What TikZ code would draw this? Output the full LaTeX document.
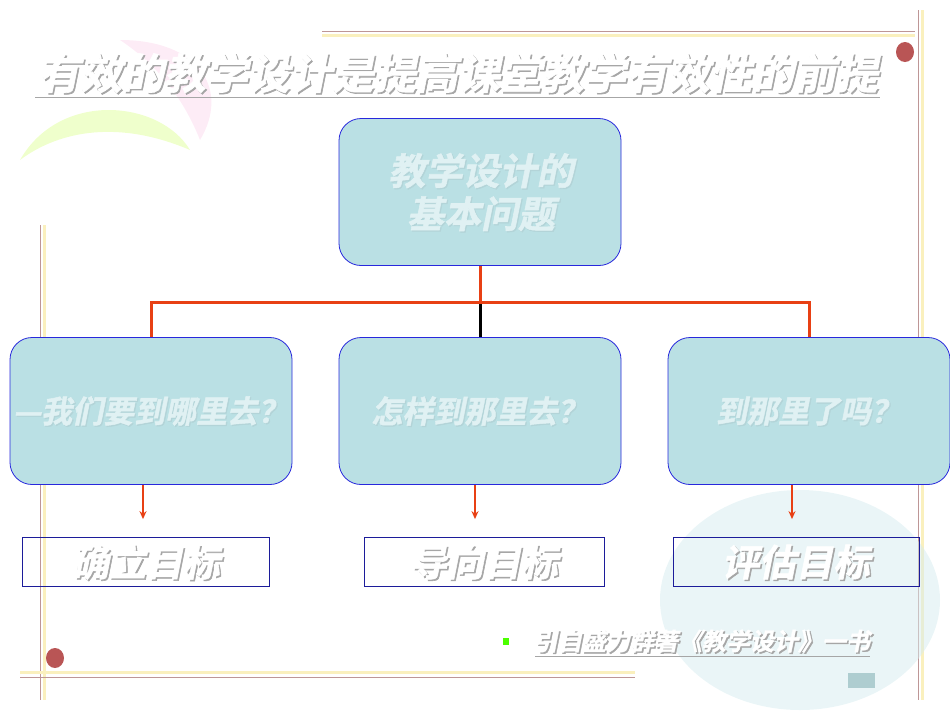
\documentclass[tikz,border=0pt]{standalone}
\usepackage{fontspec}
\newfontfamily\cjkb[FakeSlant=0.2,FakeBold=1.5]{Noto Sans CJK SC Bold}
\definecolor{boxfill}{RGB}{186,224,228}
\definecolor{boxline}{RGB}{40,40,220}
\definecolor{conn}{RGB}{232,64,20}
\definecolor{deco}{RGB}{190,150,150}
\definecolor{decoy}{RGB}{250,240,190}
\definecolor{dot}{RGB}{185,85,85}
\tikzset{
 bigbox/.style={draw=boxline,fill=boxfill,rounded corners=22pt,minimum width=282pt,minimum height=147pt,line width=0.8pt},
 goalbox/.style={draw=boxline!70!black,line width=0.8pt,minimum height=49pt},
 conline/.style={draw=conn,line width=3pt},
 arr/.style={draw=conn,line width=2.2pt,-{Stealth[length=8pt,width=7pt]}},
 shd/.style={text=gray!70},
 wt/.style={text=white},
 faint/.style={text=white!55!boxfill},
 faintshd/.style={text=boxfill!88!gray}
}
\newcommand{\shtext}[4]{% pos, size, text, name
 \node[shd,font=\cjkb\fontsize{#2}{#2}\selectfont] at ($(#1)+(1.5,1.5)$) {#3};
 \node[wt,font=\cjkb\fontsize{#2}{#2}\selectfont] (#4) at (#1) {#3};}
\newcommand{\fainttext}[4]{%
 \node[faintshd,font=\cjkb\fontsize{#2}{#2}\selectfont,align=center] at ($(#1)+(1.2,1.2)$) {#3};
 \node[faint,font=\cjkb\fontsize{#2}{#2}\selectfont,align=center] (#4) at (#1) {#3};}
\usetikzlibrary{calc,arrows.meta}
\begin{document}
\begin{tikzpicture}[x=1pt,y=-1pt]
\useasboundingbox (0,0) rectangle (950,713);
% decorations
\fill[green!30!yellow!40,opacity=0.5] (20,160) .. controls (60,90) and (160,100) .. (190,150) .. controls (120,120) and (60,130) .. (20,160);
\fill[magenta!15,opacity=0.5] (120,40) .. controls (200,40) and (230,90) .. (200,140) .. controls (180,90) and (150,60) .. (120,40);
\draw[decoy,line width=3pt] (322,35) -- (915,35);
\draw[deco,line width=1pt] (322,31) -- (915,31);
\draw[deco,line width=1pt] (918,10) -- (918,700);
\draw[decoy,line width=3pt] (922,10) -- (922,700);
\draw[deco,line width=1pt] (40,225) -- (40,700);
\draw[decoy,line width=3pt] (44,225) -- (44,700);
\draw[decoy,line width=3pt] (20,672) -- (635,672);
\draw[deco,line width=1pt] (20,677) -- (635,677);
\fill[dot] (905,52) ellipse (9 and 10);
\fill[dot] (55,658) ellipse (9 and 10);
\fill[boxfill!60,opacity=0.5] (800,600) ellipse (140 and 110);
% title
\shtext{458,73}{42}{有效的教学设计是提高课堂教学有效性的前提}{title}
\draw[gray!70,line width=1pt] (35,97) -- (880,97);
% boxes
\node[bigbox] (top) at (480,192) {};
\node[bigbox] (b1) at (151,411) {};
\node[bigbox] (b2) at (480,411) {};
\node[bigbox] (b3) at (809,411) {};
\fainttext{481,192}{37}{教学设计的\\[6pt]基本问题}{tt}
\fainttext{151,411}{31}{—我们要到哪里去？}{t1}
\fainttext{480,411}{31}{怎样到那里去？}{t2}
\fainttext{809,411}{31}{到那里了吗？}{t3}
% connectors
\coordinate (j) at (480,302);
\draw[conline] (top.south) -- (j);
\draw[line width=3pt] (j) -- (b2.north);
\draw[conline] (b1.north) |- (j) -| (b3.north);
% goal boxes
\node[goalbox,minimum width=247pt] (g1) at (146,562) {};
\node[goalbox,minimum width=240pt] (g2) at (484,562) {};
\node[goalbox,minimum width=246pt] (g3) at (796,562) {};
\shtext{g1}{37}{确立目标}{gt1}
\shtext{g2}{37}{导向目标}{gt2}
\shtext{g3}{37}{评估目标}{gt3}
\draw[arr] ($(b1.south)+(-8,0)$) -- ($(g1.north)+(-3,-18)$);
\draw[arr] ($(b2.south)+(-5,0)$) -- ($(g2.north)+(-9,-18)$);
\draw[arr] ($(b3.south)+(-17,0)$) -- ($(g3.north)+(-4,-18)$);
% footnote
\fill[green!70!yellow] (503,638) rectangle (509,645);
\shtext{702,641}{24}{引自盛力群著《教学设计》一书}{foot}
\draw[gray!70,line width=0.8pt] (535,656) -- (870,656);
\fill[boxfill!80!gray] (848,673) rectangle (875,688);
\end{tikzpicture}
\end{document}
